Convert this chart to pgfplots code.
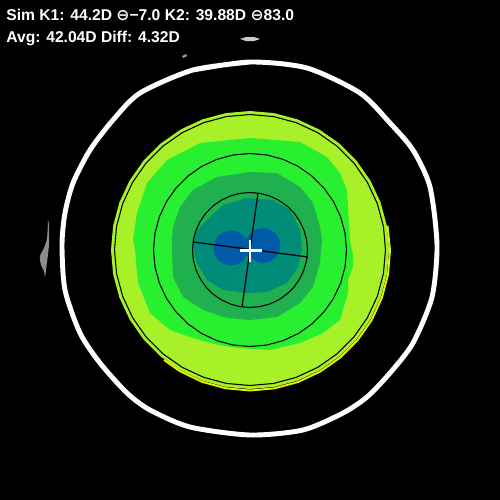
\documentclass[border=0pt]{standalone}
\usepackage{pgfplots}
\usepackage{pgfplotstable}
\pgfplotsset{compat=1.18}
\usepackage{fontspec}
\setmainfont{Liberation Sans}
\newfontfamily\symfont{DejaVu Sans}
\definecolor{yg}{RGB}{168,240,40}
\definecolor{bg}{RGB}{40,240,48}
\definecolor{dg}{RGB}{32,176,80}
\definecolor{teal2}{RGB}{0,140,120}
\definecolor{blue2}{RGB}{0,90,168}
\definecolor{yel}{RGB}{232,240,0}
\pgfplotstableread{
a r0 r1 r2 r3
0 139 135.5 96.5 57.5
10 139 135.5 96.5 57.5
20 139 135.5 96.5 57.5
30 139 135.5 96.5 57.5
40 139 135.5 96.5 57.5
50 139 135.5 96.5 57.5
60 139 135.5 96.5 57.5
70 139 135.5 96.5 57.5
80 139 135.5 96.5 57.5
90 139 135.5 96.5 57.5
100 139 135.5 96.5 57.5
110 139 135.5 96.5 57.5
120 139 135.5 96.5 57.5
130 139 135.5 96.5 57.5
140 139 135.5 96.5 57.5
150 139 135.5 96.5 57.5
160 139 135.5 96.5 57.5
170 139 135.5 96.5 57.5
180 139 135.5 96.5 57.5
190 139 135.5 96.5 57.5
200 139 135.5 96.5 57.5
210 139 135.5 96.5 57.5
220 139 135.5 96.5 57.5
230 139 135.5 96.5 57.5
240 139 135.5 96.5 57.5
250 139 135.5 96.5 57.5
260 139 135.5 96.5 57.5
270 139 135.5 96.5 57.5
280 139 135.5 96.5 57.5
290 139 135.5 96.5 57.5
300 139 135.5 96.5 57.5
310 139 135.5 96.5 57.5
320 139 135.5 96.5 57.5
330 139 135.5 96.5 57.5
340 139 135.5 96.5 57.5
350 139 135.5 96.5 57.5
360 139 135.5 96.5 57.5
}\ringtab
\begin{document}
\begin{tikzpicture}
\begin{axis}[width=10cm,height=10cm,scale only axis,hide axis,
  xmin=-250,xmax=250,ymin=-250,ymax=250,y dir=reverse,clip=true]
% background
\addplot[fill=black,draw=none] coordinates {(-250,-250) (250,-250) (250,250) (-250,250)} -- cycle;
% noise smudges
\addplot[fill=white!55!black,draw=none,smooth] coordinates {(-202,-30) (-203,-12) (-206,-2) (-210,6) (-209,15) (-206,21) (-205,27) (-203,12) (-201,-5) (-201,-24) (-202,-30)};
\addplot[fill=white!80!black,draw=none] coordinates {(-10,-211) (-4,-213) (4,-213) (10,-211) (4,-209) (-4,-209)} -- cycle;
\addplot[fill=white!60!black,draw=none] coordinates {(-68,-194) (-64,-196) (-63,-194) (-67,-192)} -- cycle;
% white ring
\addplot[white,line width=2.8pt,line join=round,smooth,tension=0.45] coordinates {
(0,-188) (-57,-180) (-110,-157) (-137,-130) (-160,-100) (-177,-67) (-185,-37) (-188,-5)
(-185,40) (-170,83) (-150,113) (-123,143) (-100,160) (-60,177) (0,185)
(53,180) (93,163) (117,147) (140,123) (163,93) (182,47) (187,-5)
(180,-63) (163,-100) (140,-127) (110,-157) (57,-182) (0,-188) (-57,-180)};
% yellow edge
\addplot[yel,line width=1.1pt,data cs=polar] coordinates {
(-10,139.6) (0,140.0) (10,140.2) (20,140.3) (30,140.4) (40,140.4) (50,140.4) (60,140.4) (70,140.5) (80,140.5) (90,140.5) (100,140.4) (110,140.3) (120,140.0) (128,139.6)};
% yellow-green disk
\addplot[fill=yg,draw=none,data cs=polar] table[x=a,y=r0] {\ringtab} -- cycle;
% bright green
\addplot[fill=bg,draw=none] coordinates {
(0,-112) (50,-108) (77,-93) (90,-77) (97,-60) (98,-43) (100,-10) (103,5) (103,17) (98,30) (98,43) (90,70) (73,83) (50,93) (20,100) (0,99)
(-20,97) (-40,93) (-60,87) (-80,80) (-100,63) (-112,33) (-115,0) (-117,-10) (-113,-37) (-103,-67) (-83,-90) (-50,-107)} -- cycle;
% dark green
\addplot[fill=dg,draw=none] coordinates {
(0,-78) (27,-77) (50,-63) (63,-47) (70,-23) (72,-10) (71,0) (70,13) (63,37) (50,53) (27,67) (0,70)
(-23,68) (-47,60) (-67,47) (-77,27) (-78,0) (-78,-10) (-77,-23) (-70,-43) (-57,-60) (-33,-73)} -- cycle;
% teal
\addplot[fill=teal2,draw=none] coordinates {
(-40,-33) (-27,-45) (-3,-52) (23,-50) (40,-40) (50,-20) (52,0) (48,17) (37,33) (17,42) (-3,43)
(-27,40) (-43,30) (-53,13) (-57,-3) (-53,-20)} -- cycle;
% blue lobes
\addplot[fill=blue2,draw=none] coordinates {
(-1.5,-2) (-2.83,4.70) (-6.63,10.37) (-12.30,14.17) (-19,15.5) (-25.70,14.17) (-31.37,10.37) (-35.17,4.70)
(-36.5,-2) (-35.17,-8.70) (-31.37,-14.37) (-25.70,-18.17) (-19,-19.5) (-12.30,-18.17) (-6.63,-14.37) (-2.83,-8.70)} -- cycle;
\addplot[fill=blue2,draw=none] coordinates {
(30.5,-4.5) (29.17,2.20) (25.37,7.87) (19.70,11.67) (13,13) (6.30,11.67) (0.63,7.87) (-3.17,2.20)
(-4.5,-4.5) (-3.17,-11.20) (0.63,-16.87) (6.30,-20.67) (13,-22) (19.70,-20.67) (25.37,-16.87) (29.17,-11.20)} -- cycle;
\addplot[fill=blue2,draw=none] coordinates {(-6,-10) (2,-12) (2,6) (-6,6)} -- cycle;
% black circles
\addplot[black,line width=0.6pt,data cs=polar] table[x=a,y=r1] {\ringtab};
\addplot[black,line width=0.6pt,data cs=polar] table[x=a,y=r2] {\ringtab};
\addplot[black,line width=0.6pt,data cs=polar] table[x=a,y=r3] {\ringtab};
% axis lines
\addplot[black,line width=0.7pt] coordinates {(8,-57) (-8,57)};
\addplot[black,line width=0.7pt] coordinates {(-57,-8) (58,7)};
% white cross
\addplot[white,line width=1.4pt] coordinates {(0,-10) (0,11.5)};
\addplot[white,line width=1.4pt] coordinates {(-10.5,0.5) (11.5,0.5)};
% text
\node[anchor=base west,text=white,inner sep=0,font=\bfseries\fontsize{8.9}{9}\selectfont] at (axis cs:-244,-229) {Sim K1: 44.2D {\symfont ⊖}−7.0 K2: 39.88D {\symfont ⊖}83.0};
\node[anchor=base west,text=white,inner sep=0,font=\bfseries\fontsize{8.9}{9}\selectfont] at (axis cs:-244,-208) {Avg: 42.04D Diff: 4.32D};
\end{axis}
\end{tikzpicture}
\end{document}
